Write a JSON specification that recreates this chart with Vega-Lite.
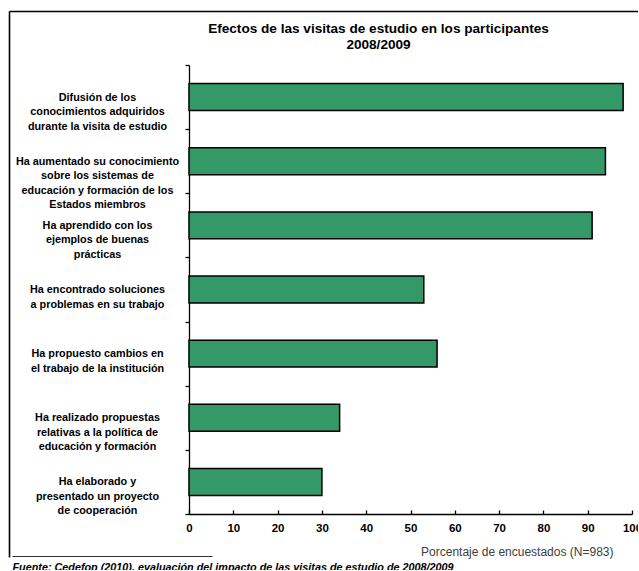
{
  "$schema": "https://vega.github.io/schema/vega-lite/v6.json",
  "width": 629,
  "height": 559,
  "padding": {"left": 9, "top": 11, "right": 0, "bottom": 0},
  "autosize": {"type": "none"},
  "background": "white",
  "config": {
    "view": {"stroke": null},
    "font": "Liberation Sans, Arial, sans-serif"
  },
  "title": {
    "text": ["Efectos de las visitas de estudio en los participantes", "2008/2009"],
    "anchor": "middle",
    "frame": "group",
    "orient": "top",
    "dx": 55,
    "offset": -47,
    "baseline": "top",
    "fontSize": 13.6,
    "fontWeight": "bold",
    "lineHeight": 16,
    "color": "#000"
  },
  "data": {
    "values": [
      {"cat": "Difusión de los|conocimientos adquiridos|durante la visita de estudio", "v": 98},
      {"cat": "Ha aumentado su conocimiento|sobre los sistemas de|educación y formación de los|Estados miembros", "v": 94},
      {"cat": "Ha aprendido con los|ejemplos de buenas|prácticas", "v": 91},
      {"cat": "Ha encontrado soluciones|a problemas en su trabajo", "v": 53},
      {"cat": "Ha propuesto cambios en|el trabajo de la institución", "v": 56},
      {"cat": "Ha realizado propuestas|relativas a la política de|educación y formación", "v": 34},
      {"cat": "Ha elaborado y|presentado un proyecto|de cooperación", "v": 30}
    ]
  },
  "layer": [
    {
      "mark": {"type": "bar", "height": {"band": 0.42}, "fill": "#339966", "stroke": "#000", "strokeWidth": 1.5},
      "encoding": {
        "y": {
          "field": "cat", "type": "nominal", "sort": null,
          "scale": {"range": [54, 503], "paddingInner": 0, "paddingOuter": 0},
          "axis": {
            "orient": "left", "offset": -180, "title": null,
            "labelExpr": "split(datum.label, '|')",
            "labelAlign": "center", "labelBaseline": "middle",
            "labelPadding": 88, "tickSize": 4, "tickBand": "extent",
            "labelLimit": 240, "labelFontSize": 10.8, "labelFontWeight": "bold",
            "labelColor": "#000", "labelLineHeight": 14.5,
            "domainColor": "#000", "tickColor": "#000",
            "domainWidth": 1.3, "tickWidth": 1.3
          }
        },
        "x": {
          "field": "v", "type": "quantitative",
          "scale": {"domain": [0, 100], "range": [180, 623], "nice": false},
          "axis": {
            "orient": "bottom", "offset": -56, "grid": false,
            "values": [0, 10, 20, 30, 40, 50, 60, 70, 80, 90, 100],
            "tickSize": -4, "labelPadding": 12, "labelOverlap": false, "labelFlush": false,
            "labelFontSize": 11.5, "labelFontWeight": "bold", "labelColor": "#000",
            "domainColor": "#000", "tickColor": "#000",
            "domainWidth": 1.3, "tickWidth": 1.3,
            "title": "Porcentaje de encuestados (N=983)",
            "titleX": 604, "titleY": 37, "titleAlign": "right", "titleBaseline": "middle",
            "titleFontSize": 12, "titleFontWeight": "normal", "titleColor": "#404040"
          }
        }
      }
    },
    {
      "mark": {"type": "point", "opacity": 0, "size": 0},
      "encoding": {
        "x": {
          "field": "v", "type": "quantitative",
          "scale": {"domain": [0, 100], "range": [0, 630], "nice": false},
          "axis": {"orient": "top", "title": null, "labels": false, "ticks": false, "grid": false, "domainColor": "#000", "domainWidth": 1.6, "offset": 0}
        },
        "y": {
          "field": "v", "type": "quantitative",
          "scale": {"domain": [0, 100], "range": [0, 546], "nice": false},
          "axis": {"orient": "left", "title": null, "labels": false, "ticks": false, "grid": false, "domainColor": "#000", "domainWidth": 1.6, "offset": 0}
        }
      }
    },
    {
      "mark": {"type": "point", "opacity": 0, "size": 0},
      "encoding": {
        "x": {
          "field": "v", "type": "quantitative",
          "scale": {"domain": [0, 100], "range": [3, 203], "nice": false},
          "axis": {
            "orient": "bottom", "offset": -14, "labels": false, "ticks": false, "grid": false,
            "domainColor": "#333", "domainWidth": 1,
            "title": "Fuente: Cedefop (2010), evaluación del impacto de las visitas de estudio de 2008/2009",
            "titleX": 3, "titleY": 5, "titleAlign": "left", "titleBaseline": "top",
            "titleFontSize": 10.8, "titleFontWeight": "bold", "titleFontStyle": "italic", "titleColor": "#000",
            "titleLimit": 800
          }
        }
      }
    }
  ],
  "resolve": {
    "scale": {"x": "independent", "y": "independent"},
    "axis": {"x": "independent", "y": "independent"}
  }
}
